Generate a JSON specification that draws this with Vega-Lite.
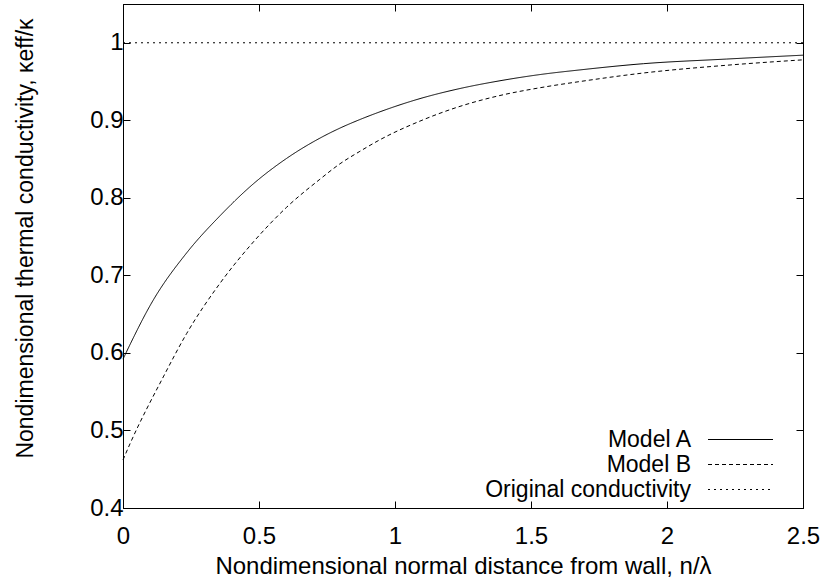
{
  "$schema": "https://vega.github.io/schema/vega-lite/v6.json",
  "autosize": {"type": "none"},
  "padding": {"left": 123, "top": 4, "right": 21, "bottom": 73},
  "width": 680,
  "height": 504,
  "background": "white",
  "config": {
    "font": "Liberation Sans",
    "view": {"stroke": "black", "strokeWidth": 1},
    "axis": {
      "grid": false,
      "domainColor": "black",
      "tickColor": "black",
      "labelColor": "black",
      "titleColor": "black",
      "labelFont": "Liberation Sans",
      "titleFont": "Liberation Sans",
      "labelFontSize": 24,
      "titleFontSize": 24,
      "titleFontWeight": "normal",
      "tickSize": -7,
      "tickWidth": 1
    },
    "legend": {
      "labelFont": "Liberation Sans",
      "labelFontSize": 23,
      "labelColor": "black",
      "labelLimit": 0
    }
  },
  "data": {
    "values": [
      {"x": 0, "y": 0.592, "series": "Model A"},
      {"x": 0.111, "y": 0.668, "series": "Model A"},
      {"x": 0.234, "y": 0.729, "series": "Model A"},
      {"x": 0.357, "y": 0.777, "series": "Model A"},
      {"x": 0.479, "y": 0.818, "series": "Model A"},
      {"x": 0.602, "y": 0.851, "series": "Model A"},
      {"x": 0.724, "y": 0.877, "series": "Model A"},
      {"x": 0.798, "y": 0.89, "series": "Model A"},
      {"x": 0.871, "y": 0.901, "series": "Model A"},
      {"x": 0.945, "y": 0.911, "series": "Model A"},
      {"x": 1.092, "y": 0.928, "series": "Model A"},
      {"x": 1.239, "y": 0.941, "series": "Model A"},
      {"x": 1.386, "y": 0.951, "series": "Model A"},
      {"x": 1.533, "y": 0.959, "series": "Model A"},
      {"x": 1.68, "y": 0.965, "series": "Model A"},
      {"x": 1.913, "y": 0.973, "series": "Model A"},
      {"x": 2.219, "y": 0.979, "series": "Model A"},
      {"x": 2.5, "y": 0.984, "series": "Model A"},
      {"x": 0, "y": 0.462, "series": "Model B"},
      {"x": 0.026, "y": 0.483, "series": "Model B"},
      {"x": 0.148, "y": 0.569, "series": "Model B"},
      {"x": 0.234, "y": 0.625, "series": "Model B"},
      {"x": 0.357, "y": 0.69, "series": "Model B"},
      {"x": 0.479, "y": 0.743, "series": "Model B"},
      {"x": 0.602, "y": 0.788, "series": "Model B"},
      {"x": 0.724, "y": 0.824, "series": "Model B"},
      {"x": 0.798, "y": 0.844, "series": "Model B"},
      {"x": 0.871, "y": 0.86, "series": "Model B"},
      {"x": 0.945, "y": 0.875, "series": "Model B"},
      {"x": 1.092, "y": 0.899, "series": "Model B"},
      {"x": 1.239, "y": 0.918, "series": "Model B"},
      {"x": 1.386, "y": 0.932, "series": "Model B"},
      {"x": 1.533, "y": 0.942, "series": "Model B"},
      {"x": 1.68, "y": 0.95, "series": "Model B"},
      {"x": 1.913, "y": 0.961, "series": "Model B"},
      {"x": 2.219, "y": 0.971, "series": "Model B"},
      {"x": 2.5, "y": 0.978, "series": "Model B"},
      {"x": 0, "y": 1, "series": "Original conductivity"},
      {"x": 2.5, "y": 1, "series": "Original conductivity"}
    ]
  },
  "layer": [
    {
      "mark": {"type": "line", "color": "black", "strokeWidth": 1, "interpolate": "monotone"},
      "encoding": {
        "x": {
          "field": "x", "type": "quantitative",
          "scale": {"domain": [0, 2.5], "nice": false, "zero": false},
          "axis": {
            "orient": "bottom",
            "values": [0, 0.5, 1, 1.5, 2, 2.5],
            "format": "~g",
            "labelPadding": 23,
            "labelFlush": false,
            "title": "Nondimensional normal distance from wall, n/λ",
            "titleBaseline": "alphabetic",
            "titleY": 65
          }
        },
        "y": {
          "field": "y", "type": "quantitative",
          "scale": {"domain": [0.4, 1.05], "nice": false, "zero": false},
          "axis": {
            "orient": "left",
            "values": [0.4, 0.5, 0.6, 0.7, 0.8, 0.9, 1],
            "format": "~g",
            "labelPadding": 7,
            "labelFlush": false,
            "title": "Nondimensional thermal conductivity, κeff/κ",
            "titleFontSize": 23,
            "titleBaseline": "alphabetic",
            "titleX": -91,
            "titleY": 234
          }
        },
        "strokeDash": {
          "field": "series", "type": "nominal",
          "scale": {
            "domain": ["Model A", "Model B", "Original conductivity"],
            "range": [[1, 0], [4, 3], [2, 4]]
          },
          "legend": {
            "title": null,
            "orient": "none",
            "legendX": 606,
            "legendY": 424,
            "padding": 0,
            "symbolType": "M-5,0L5,0",
            "symbolSize": 169,
            "symbolStrokeColor": "black",
            "symbolStrokeWidth": 1,
            "rowPadding": 1,
            "labelAlign": "right",
            "labelOffset": -61
          }
        }
      }
    },
    {
      "mark": {"type": "line", "strokeOpacity": 0},
      "encoding": {
        "x": {
          "field": "x", "type": "quantitative",
          "axis": {"orient": "top", "values": [0, 0.5, 1, 1.5, 2, 2.5], "labels": false, "title": null}
        },
        "y": {
          "field": "y", "type": "quantitative",
          "axis": {"orient": "right", "values": [0.4, 0.5, 0.6, 0.7, 0.8, 0.9, 1], "labels": false, "title": null}
        },
        "detail": {"field": "series"}
      }
    }
  ],
  "resolve": {"axis": {"x": "independent", "y": "independent"}}
}
